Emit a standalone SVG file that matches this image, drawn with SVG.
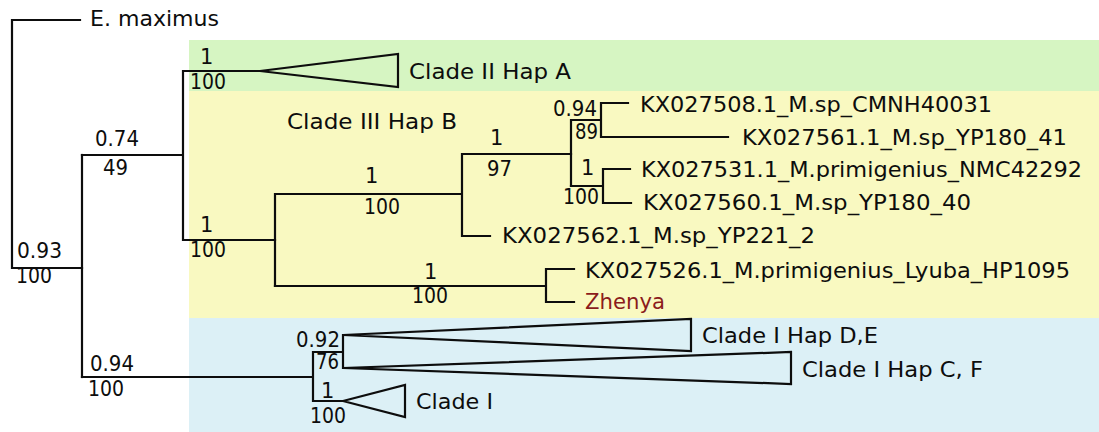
<svg xmlns="http://www.w3.org/2000/svg" width="1099" height="432" viewBox="0 0 1099 432">
<style>
text{font-family:"DejaVu Sans","Verdana",sans-serif;font-size:21px;fill:#0d0d0d}
.br{fill:none;stroke:#0d0d0d;stroke-width:2.2;stroke-linejoin:miter;stroke-linecap:square}
.tri{stroke:#0d0d0d;stroke-width:2.2;stroke-linejoin:miter}
</style>
<rect width="1099" height="432" fill="#ffffff"/>
<g id="bands">
<rect x="189" y="40" width="910" height="51" fill="#d6f5c2"/>
<rect x="189" y="91" width="910" height="227" fill="#f9f9c1"/>
<rect x="189" y="318" width="910" height="114" fill="#dcf0f6"/>
</g>
<g id="connectors">
<path class="br" d="M80 20 H12 V268 H82"/>
<path class="br" d="M82 155 V377"/>
<path class="br" d="M82 155 H183 M183 71 V240 M183 71 H260 M183 240 H275"/>
<path class="br" d="M275 194 V286 M275 194 H462 M462 154 V236 M462 236 H490 M462 154 H571"/>
<path class="br" d="M571 120 V186 M571 120 H601 M601 103 V137 M601 103 H628 M601 137 H728"/>
<path class="br" d="M571 186 H603 M603 169 V203 M603 169 H630 M603 203 H631"/>
<path class="br" d="M275 286 H546 M546 269 V302 M546 269 H574 M546 302 H574"/>
<path class="br" d="M82 377 H313 M313 352 V401 M313 352 H343 M343 335 V368 M313 401 H343"/>
</g>
<g id="cladeII">
<polygon class="tri" points="260,71 398,54 398,87" fill="#d6f5c2"/>
<text x="409" y="79" textLength="162" lengthAdjust="spacingAndGlyphs">Clade II Hap A</text>
</g>
<g id="cladeIII">
<text x="287" y="129" textLength="170" lengthAdjust="spacingAndGlyphs">Clade III Hap B</text>
</g>
<g id="cladeIDE">
<polygon class="tri" points="343,335 691,319 691,351" fill="#dcf0f6"/>
<text x="702" y="343" textLength="176" lengthAdjust="spacingAndGlyphs">Clade I Hap D,E</text>
</g>
<g id="cladeICF">
<polygon class="tri" points="343,368 791,352 791,384" fill="#dcf0f6"/>
<text x="802" y="377" textLength="181" lengthAdjust="spacingAndGlyphs">Clade I Hap C, F</text>
</g>
<g id="cladeI">
<polygon class="tri" points="343,401 405,385 405,417" fill="#dcf0f6"/>
<text x="416" y="409" textLength="77" lengthAdjust="spacingAndGlyphs">Clade I</text>
</g>
<g id="leaves">
<text x="90" y="26" textLength="129" lengthAdjust="spacingAndGlyphs">E. maximus</text>
<text x="640" y="112" textLength="352" lengthAdjust="spacingAndGlyphs">KX027508.1_M.sp_CMNH40031</text>
<text x="742" y="145" textLength="325" lengthAdjust="spacingAndGlyphs">KX027561.1_M.sp_YP180_41</text>
<text x="641" y="177" textLength="441" lengthAdjust="spacingAndGlyphs">KX027531.1_M.primigenius_NMC42292</text>
<text x="643" y="210" textLength="328" lengthAdjust="spacingAndGlyphs">KX027560.1_M.sp_YP180_40</text>
<text x="502" y="243" textLength="313" lengthAdjust="spacingAndGlyphs">KX027562.1_M.sp_YP221_2</text>
<text x="585" y="278" textLength="485" lengthAdjust="spacingAndGlyphs">KX027526.1_M.primigenius_Lyuba_HP1095</text>
<text x="585" y="309" textLength="80" lengthAdjust="spacingAndGlyphs" style="fill:#8b1c1c">Zhenya</text>
</g>
<g id="support">
<text x="17" y="258" textLength="45" lengthAdjust="spacingAndGlyphs">0.93</text>
<text x="16" y="283" textLength="36" lengthAdjust="spacingAndGlyphs">100</text>
<text x="95" y="146" textLength="44" lengthAdjust="spacingAndGlyphs">0.74</text>
<text x="103" y="175" textLength="25" lengthAdjust="spacingAndGlyphs">49</text>
<text x="200" y="64">1</text>
<text x="190" y="89" textLength="36" lengthAdjust="spacingAndGlyphs">100</text>
<text x="200" y="232">1</text>
<text x="190" y="257" textLength="36" lengthAdjust="spacingAndGlyphs">100</text>
<text x="365" y="183">1</text>
<text x="364" y="214" textLength="36" lengthAdjust="spacingAndGlyphs">100</text>
<text x="490" y="145">1</text>
<text x="487" y="176" textLength="25" lengthAdjust="spacingAndGlyphs">97</text>
<text x="553" y="116" textLength="44" lengthAdjust="spacingAndGlyphs">0.94</text>
<text x="575" y="139" textLength="23" lengthAdjust="spacingAndGlyphs">89</text>
<text x="581" y="175">1</text>
<text x="563" y="204" textLength="36" lengthAdjust="spacingAndGlyphs">100</text>
<text x="424" y="279">1</text>
<text x="412" y="303" textLength="36" lengthAdjust="spacingAndGlyphs">100</text>
<text x="90" y="371" textLength="44" lengthAdjust="spacingAndGlyphs">0.94</text>
<text x="88" y="396" textLength="36" lengthAdjust="spacingAndGlyphs">100</text>
<text x="296" y="347" textLength="44" lengthAdjust="spacingAndGlyphs">0.92</text>
<text x="316" y="369" textLength="23" lengthAdjust="spacingAndGlyphs">76</text>
<text x="321" y="398">1</text>
<text x="310" y="423" textLength="36" lengthAdjust="spacingAndGlyphs">100</text>
</g>
</svg>
